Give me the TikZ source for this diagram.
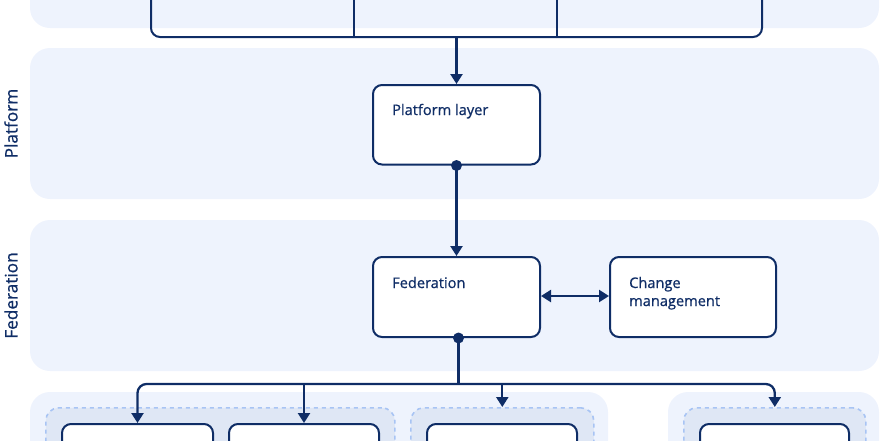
\documentclass[tikz,border=0pt]{standalone}
\usepackage{fontspec}
\setmainfont{Open Sans}[FakeBold=0.8]
\usetikzlibrary{arrows.meta,calc}
\definecolor{lanec}{HTML}{EEF3FD}
\definecolor{grpc}{HTML}{DFE7F5}
\definecolor{dashc}{HTML}{A8C4F4}
\definecolor{navy}{HTML}{0F2D66}
\tikzset{
  lanebox/.style={fill=lanec, rounded corners=20pt},
  box/.style={draw=navy, line width=2pt, fill=white, rounded corners=9pt, inner sep=0pt, anchor=north west},
  grpbox/.style={draw=dashc, fill=grpc, line width=1.6pt, dash pattern=on 4pt off 4pt, rounded corners=13pt, inner sep=0pt, anchor=north west},
  lbl/.style={text=navy, font=\fontsize{14.6}{18}\selectfont, inner sep=0pt, anchor=base west},
  sidelbl/.style={text=navy, font=\fontsize{17.2}{18}\selectfont, rotate=90, inner sep=0pt},
  conn/.style={draw=navy, line width=2.3pt},
  tip/.tip={Triangle[width=12pt,length=10pt]},
  arr/.style={conn, -tip},
  dbl/.style={conn, tip-tip},
  dot/.style={fill=navy}
}
\begin{document}
\begin{tikzpicture}[x=1pt,y=-1pt]
\useasboundingbox (0,0) rectangle (880,440);
\clip (0,0) rectangle (880,440);
% lanes
\path[lanebox] (30,-80) rectangle (879,28);
\path[lanebox] (30,48) rectangle (879,199);
\path[lanebox] (30,220) rectangle (879,371);
\path[lanebox] (30,392) rectangle (608,480);
\path[lanebox] (668,392) rectangle (879,480);
% side labels
\node[sidelbl] (lp) at (11,123.5) {Platform};
\node[sidelbl] (lf) at (11,295.5) {Federation};
% top box
\node[box, fill=none, anchor=south west, minimum width=611pt, minimum height=100pt] (top) at (150,38) {};
\draw[conn, line width=2pt] ($(top.south west)+(204,0)$) -- ($(top.north west)+(204,0)$);
\draw[conn, line width=2pt] ($(top.south west)+(407,0)$) -- ($(top.north west)+(407,0)$);
% platform
\node[box, minimum width=167pt, minimum height=79.5pt] (plat) at (372,84) {};
\node[lbl] (platt) at (392,115) {Platform layer};
% federation
\node[box, minimum width=167pt, minimum height=80pt] (fed) at (372,256) {};
\node[lbl] (fedt) at (392,288) {Federation};
\node[box, minimum width=166pt, minimum height=80pt] (chg) at (609,256) {};
\node[lbl] (chgt1) at (629,288) {Change};
\node[lbl] (chgt2) at (629,306) {management};
% groups
\node[grpbox, minimum width=349pt, minimum height=90pt] (g1) at (45,407) {};
\node[grpbox, minimum width=183pt, minimum height=90pt] (g2) at (410,407) {};
\node[grpbox, minimum width=182pt, minimum height=90pt] (g3) at (683,407) {};
% inner boxes
\node[box, minimum width=151pt, minimum height=60pt] (ba) at (61,423) {};
\node[box, minimum width=150pt, minimum height=60pt] (bb) at (228,423) {};
\node[box, minimum width=150pt, minimum height=60pt] (bc) at (426,423) {};
\node[box, minimum width=149pt, minimum height=60pt] (bd) at (699,423) {};
% connectors
\coordinate (topout) at (top.south);
\draw[arr] (plat.north |- topout) -- (plat.north);
\draw[arr] (plat.south) -- (fed.north);
\fill[dot] (plat.south) circle (5.5pt);
\coordinate (fedout) at ($(fed.south)+(2,0)$);
\coordinate (bus) at ($(fedout)+(0,46)$);
\draw[conn] (fedout) -- (bus);
\fill[dot] (fedout) circle (5.5pt);
\draw[dbl, rounded corners=9pt] (ba.north) |- (bus) -| (g3.north);
\draw[arr] (bb.north |- bus) -- (bb.north);
\draw[arr] (g2.north |- bus) -- (g2.north);
\coordinate (mid) at (0,296);
\draw[dbl] (fed.east |- mid) -- (chg.west |- mid);
\end{tikzpicture}
\end{document}
